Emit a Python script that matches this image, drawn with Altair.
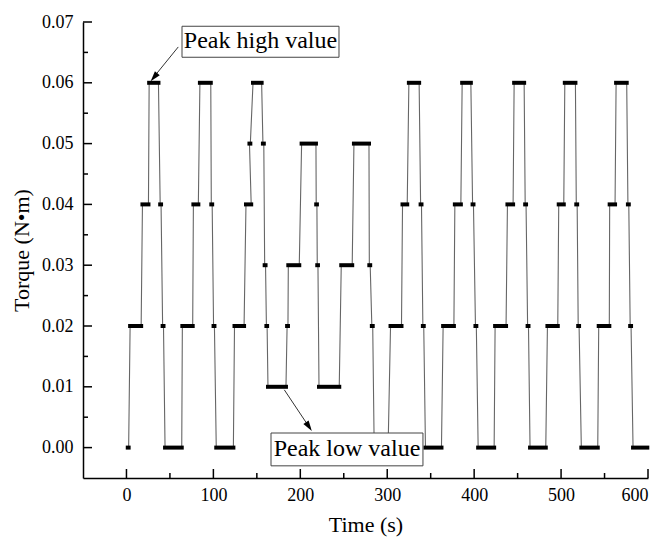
import altair as alt
import pandas as pd

# ---- data: hold segments (start time s, end time s, torque N*m) in sequence ----
hold_start = [1.5, 4.2, 18.4, 26.1, 38.8, 41.6, 44.4,
              64.3, 77.0, 84.5, 97.6, 100.2, 103.3,
              124.3, 137.5, 141.5, 145.6, 157.0, 159.0, 161.0, 162.8, 184.8, 186.2, 201.5, 218.3, 219.5, 221.5,
              247.1, 261.7, 279.4, 282.3, 285.0,
              303.8, 317.6, 324.9, 338.4, 341.0, 344.0,
              364.3, 377.8, 386.2, 398.2, 401.5, 404.6,
              424.1, 438.3, 446.0, 458.7, 461.5, 464.3,
              484.3, 497.3, 504.3, 517.5, 519.7, 523.3,
              543.3, 555.9, 563.3, 576.9, 579.5, 582.8]
hold_end = [2.5, 16.9, 25.3, 36.8, 39.8, 42.6, 63.6,
            76.2, 82.7, 97.0, 98.6, 101.2, 123.0,
            135.3, 143.5, 142.5, 155.5, 158.0, 160.0, 161.8, 183.5, 185.8, 198.8, 218.0, 219.1, 220.3, 244.8,
            259.7, 279.0, 280.4, 283.3, 301.0,
            316.4, 323.0, 336.7, 339.4, 342.0, 362.4,
            376.7, 384.7, 396.2, 399.2, 402.5, 423.0,
            436.7, 444.8, 457.5, 459.7, 462.5, 482.4,
            496.2, 503.1, 516.5, 518.5, 520.7, 542.2,
            555.5, 562.1, 575.5, 577.9, 580.5, 599.2]
hold_level = [0.00, 0.02, 0.04, 0.06, 0.04, 0.02, 0.00,
              0.02, 0.04, 0.06, 0.04, 0.02, 0.00,
              0.02, 0.04, 0.05, 0.06, 0.05, 0.03, 0.02, 0.01, 0.02, 0.03, 0.05, 0.04, 0.03, 0.01,
              0.03, 0.05, 0.03, 0.02, 0.00,
              0.02, 0.04, 0.06, 0.04, 0.02, 0.00,
              0.02, 0.04, 0.06, 0.04, 0.02, 0.00,
              0.02, 0.04, 0.06, 0.04, 0.02, 0.00,
              0.02, 0.04, 0.06, 0.04, 0.02, 0.00,
              0.02, 0.04, 0.06, 0.04, 0.02, 0.00]

x_major = [0, 100, 200, 300, 400, 500, 600]
x_minor = [50, 150, 250, 350, 450, 550]
y_major = [0.00, 0.01, 0.02, 0.03, 0.04, 0.05, 0.06, 0.07]
y_minor = [0.005, 0.015, 0.025, 0.035, 0.045, 0.055, 0.065]

# annotations (data coordinates)
ann_text = ["Peak high value", "Peak low value"]
ann_box_x1 = [63.9, 166.3]
ann_box_x2 = [244.5, 341.1]
ann_box_y1 = [0.0642, -0.0030]
ann_box_y2 = [0.0693, 0.0024]
ann_text_x = [154.2, 253.7]
ann_text_y = [0.0668, -0.0003]
arrow_x1 = [59.6, 181.6]
arrow_y1 = [0.0659, 0.0095]
arrow_x2 = [29.5, 211.5]
arrow_y2 = [0.0606, 0.0031]
head_x = [31.7, 209.9]
head_y = [0.0609, 0.00346]
head_angle = [219.5, 146]

FONT = "Liberation Serif"
W, H = 565, 456
xs = alt.Scale(domain=[-50, 600], nice=False, zero=False)
ys = alt.Scale(domain=[-0.005, 0.07], nice=False, zero=False)

holds = pd.DataFrame({"s": hold_start, "e": hold_end, "v": hold_level})
pts = []
for i, (s, e, v) in enumerate(zip(hold_start, hold_end, hold_level)):
    pts.append({"t": s, "v": v, "i": 2 * i})
    pts.append({"t": e, "v": v, "i": 2 * i + 1})
pts = pd.DataFrame(pts)

xaxis = alt.Axis(values=x_major, format="d", ticks=False, grid=False, labelFont=FONT,
                 labelFontSize=18, labelColor="black", labelPadding=8, domainColor="black",
                 domainWidth=1.5, title="Time (s)", titleFont=FONT, titleFontSize=22,
                 titleFontWeight="normal", titleColor="black", titlePadding=10)
yaxis = alt.Axis(values=y_major, format=".2f", ticks=False, grid=False, labelFont=FONT,
                 labelFontSize=18, labelColor="black", labelPadding=10, domainColor="black",
                 domainWidth=1.5, title="Torque (N•m)", titleFont=FONT, titleFontSize=22,
                 titleFontWeight="normal", titleColor="black", titlePadding=8)

line = alt.Chart(pts).mark_line(color="#666666", strokeWidth=1.1).encode(
    x=alt.X("t:Q", scale=xs, axis=xaxis),
    y=alt.Y("v:Q", scale=ys, axis=yaxis),
    order=alt.Order("i:Q"),
)
thick = alt.Chart(holds).mark_rule(color="black", strokeWidth=4, strokeCap="square").encode(
    x=alt.X("s:Q", scale=xs), x2="e:Q", y=alt.Y("v:Q", scale=ys)
)

ytick_major = alt.Chart(pd.DataFrame({"v": y_major})).mark_rule(color="black", strokeWidth=1.5).encode(
    y=alt.Y("v:Q", scale=ys), x=alt.value(0), x2=alt.value(9))
ytick_minor = alt.Chart(pd.DataFrame({"v": y_minor})).mark_rule(color="black", strokeWidth=1.5).encode(
    y=alt.Y("v:Q", scale=ys), x=alt.value(0), x2=alt.value(5))
xtick_major = alt.Chart(pd.DataFrame({"t": x_major})).mark_rule(color="black", strokeWidth=1.5).encode(
    x=alt.X("t:Q", scale=xs), y=alt.value(H), y2=alt.value(H - 9))
xtick_minor = alt.Chart(pd.DataFrame({"t": x_minor})).mark_rule(color="black", strokeWidth=1.5).encode(
    x=alt.X("t:Q", scale=xs), y=alt.value(H), y2=alt.value(H - 5))

ann = pd.DataFrame({"text": ann_text, "bx1": ann_box_x1, "bx2": ann_box_x2,
                    "by1": ann_box_y1, "by2": ann_box_y2, "tx": ann_text_x, "ty": ann_text_y,
                    "ax1": arrow_x1, "ay1": arrow_y1, "ax2": arrow_x2, "ay2": arrow_y2,
                    "hx": head_x, "hy": head_y, "ha": head_angle})

arrows = alt.Chart(ann).mark_rule(color="#333333", strokeWidth=1).encode(
    x=alt.X("ax1:Q", scale=xs), x2="ax2:Q", y=alt.Y("ay1:Q", scale=ys), y2="ay2:Q")
heads = alt.Chart(ann).mark_point(
    shape="M0,-1L0.6,1L-0.6,1Z", filled=True, color="black", size=110, opacity=1
).encode(
    x=alt.X("hx:Q", scale=xs), y=alt.Y("hy:Q", scale=ys), angle=alt.Angle("ha:Q", scale=None))
boxes = alt.Chart(ann).mark_rect(fill="white", stroke="#444444", strokeWidth=1).encode(
    x=alt.X("bx1:Q", scale=xs), x2="bx2:Q", y=alt.Y("by1:Q", scale=ys), y2="by2:Q")
texts = alt.Chart(ann).mark_text(font=FONT, fontSize=24, color="black", baseline="middle",
                                 align="center").encode(
    x=alt.X("tx:Q", scale=xs), y=alt.Y("ty:Q", scale=ys), text="text:N")

chart = alt.layer(line, thick, ytick_major, ytick_minor, xtick_major, xtick_minor,
                  boxes, texts, arrows, heads).properties(
    width=W, height=H,
    autosize=alt.AutoSizeParams(type="none"),
    padding={"left": 83, "top": 22, "right": 17, "bottom": 64},
    background="white",
).configure_view(stroke=None)

chart.save("out.html", embed_options={"renderer": "svg", "actions": False})
